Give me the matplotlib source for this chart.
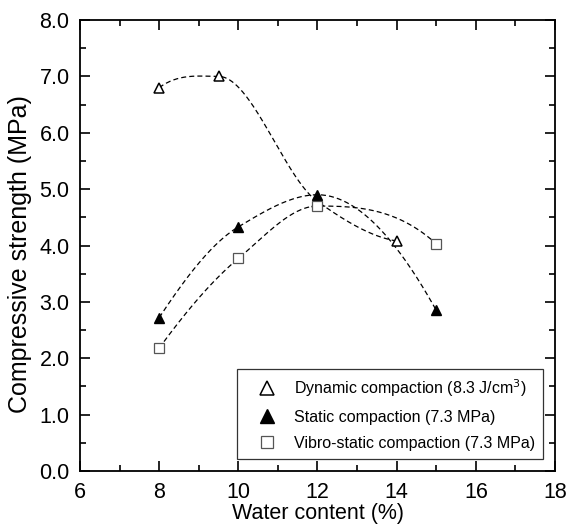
import numpy as np
import matplotlib.pyplot as plt
from matplotlib.ticker import MultipleLocator

plt.rcParams['font.family'] = ['Liberation Sans', 'DejaVu Sans']

dyn_x = [8, 9.5, 12, 14]
dyn_y = [6.8, 7.0, 4.78, 4.08]
sta_x = [8, 10, 12, 15]
sta_y = [2.72, 4.33, 4.9, 2.85]
vib_x = [8, 10, 12, 15]
vib_y = [2.18, 3.77, 4.7, 4.03]


def smooth(x, y, n=200):
    # monotone cubic (pchip) through the measured points
    x = np.asarray(x, float)
    y = np.asarray(y, float)
    h = np.diff(x)
    d = np.diff(y) / h
    k = len(x)
    m = np.zeros(k)
    for i in range(1, k - 1):
        if d[i - 1] * d[i] > 0:
            w1 = 2 * h[i] + h[i - 1]
            w2 = h[i] + 2 * h[i - 1]
            m[i] = (w1 + w2) / (w1 / d[i - 1] + w2 / d[i])
    m[0] = ((2 * h[0] + h[1]) * d[0] - h[0] * d[1]) / (h[0] + h[1])
    if np.sign(m[0]) != np.sign(d[0]):
        m[0] = 0
    m[-1] = ((2 * h[-1] + h[-2]) * d[-1] - h[-1] * d[-2]) / (h[-1] + h[-2])
    if np.sign(m[-1]) != np.sign(d[-1]):
        m[-1] = 0
    xs = np.linspace(x[0], x[-1], n)
    idx = np.clip(np.searchsorted(x, xs) - 1, 0, k - 2)
    t = (xs - x[idx]) / h[idx]
    h00 = 2 * t ** 3 - 3 * t ** 2 + 1
    h10 = t ** 3 - 2 * t ** 2 + t
    h01 = -2 * t ** 3 + 3 * t ** 2
    h11 = t ** 3 - t ** 2
    ys = h00 * y[idx] + h10 * h[idx] * m[idx] + h01 * y[idx + 1] + h11 * h[idx] * m[idx + 1]
    return xs, ys


fig = plt.figure(figsize=(5.67, 5.27), dpi=100)
ax = fig.add_axes([80 / 567, 1 - 471 / 527, 475 / 567, 451 / 527])

for x, y in [(dyn_x, dyn_y), (sta_x, sta_y), (vib_x, vib_y)]:
    xs, ys = smooth(x, y)
    ax.plot(xs, ys, ls=(0, (4, 2.5)), color='black', lw=0.9)

ax.plot(dyn_x, dyn_y, ls='none', marker='^', ms=7, mfc='white', mec='black', mew=1.1,
        label='Dynamic compaction (8.3 J/cm$^3$)')
ax.plot(sta_x, sta_y, ls='none', marker='^', ms=7, mfc='black', mec='black',
        label='Static compaction (7.3 MPa)')
ax.plot(vib_x, vib_y, ls='none', marker='s', ms=6.5, mfc='white', mec='#555555', mew=0.9,
        label='Vibro-static compaction (7.3 MPa)')

ax.set_xlim(6, 18)
ax.set_ylim(0, 8)
ax.xaxis.set_major_locator(MultipleLocator(2))
ax.xaxis.set_minor_locator(MultipleLocator(1))
ax.yaxis.set_major_locator(MultipleLocator(1))
ax.yaxis.set_minor_locator(MultipleLocator(0.5))
ax.yaxis.set_major_formatter(lambda v, p: f'{v:.1f}')
ax.tick_params(which='both', direction='in', top=True, right=True, width=1.2)
ax.tick_params(which='major', length=7, labelsize=15.5)
ax.tick_params(axis='x', which='major', pad=8)
ax.tick_params(axis='y', which='major', pad=7.5)
ax.tick_params(which='minor', length=4)
for s in ax.spines.values():
    s.set_linewidth(1.3)

ax.set_xlabel('Water content (%)', fontsize=15.5, labelpad=0)
ax.set_ylabel('Compressive strength (MPa)', fontsize=18, labelpad=0)
ax.yaxis.set_label_coords(-0.10, 0.48)

leg = ax.legend(loc='lower right', fontsize=11.5, frameon=True, fancybox=False,
                edgecolor='black', markerscale=1.4, handlelength=2.7, handletextpad=0.35,
                borderpad=0.5, borderaxespad=0.75, labelspacing=0.7)
leg.get_frame().set_linewidth(0.9)

plt.savefig('out.png', dpi=100)
